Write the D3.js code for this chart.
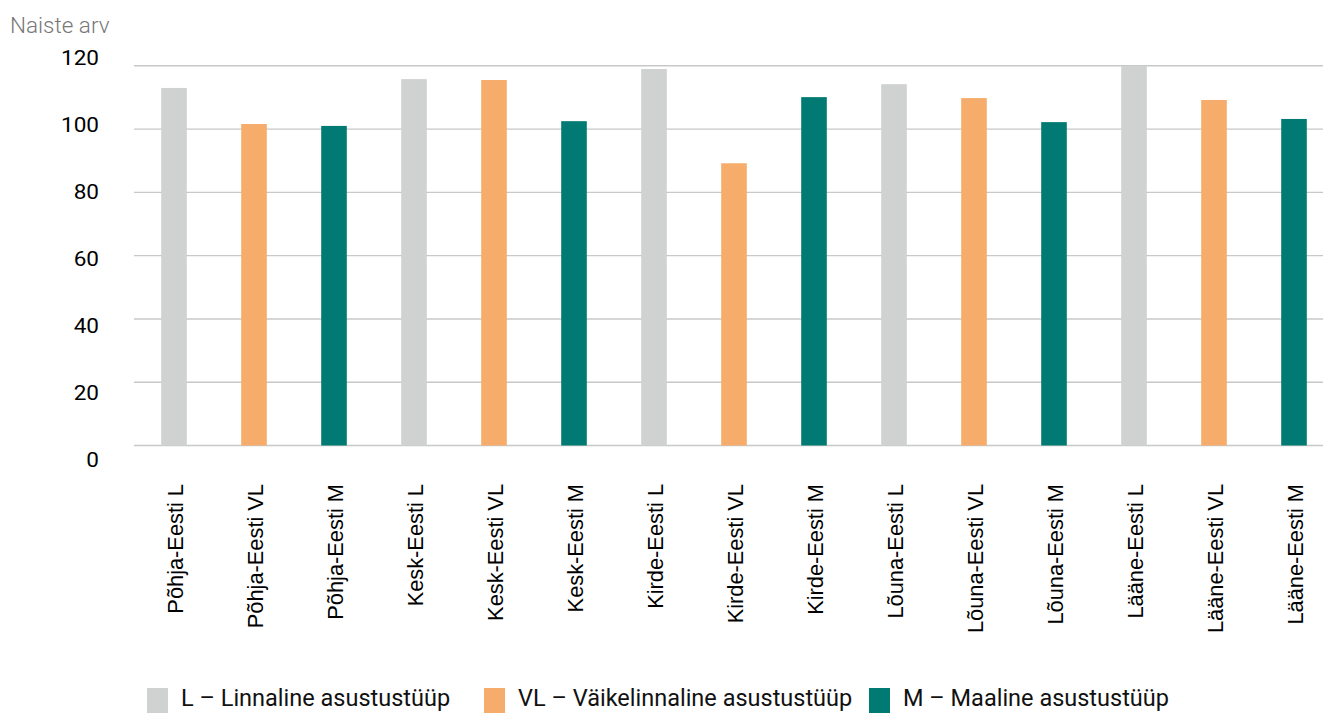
<!DOCTYPE html>
<html>
<head>
<meta charset="utf-8">
<script src="https://cdn.jsdelivr.net/npm/d3@7/dist/d3.min.js"></script>
<style>
  html, body { margin: 0; padding: 0; background: #fff; overflow: hidden; }
  svg { display: block; }
</style>
</head>
<body>
<svg id="chart" width="1323" height="713"></svg>
<script>
// ---- Data ----
const categories = [
  "Põhja-Eesti L", "Põhja-Eesti VL", "Põhja-Eesti M",
  "Kesk-Eesti L", "Kesk-Eesti VL", "Kesk-Eesti M",
  "Kirde-Eesti L", "Kirde-Eesti VL", "Kirde-Eesti M",
  "Lõuna-Eesti L", "Lõuna-Eesti VL", "Lõuna-Eesti M",
  "Lääne-Eesti L", "Lääne-Eesti VL", "Lääne-Eesti M"
];
const values = [113, 101.6, 101, 115.8, 115.5, 102.5, 119, 89.2, 110.1, 114.2, 109.8, 102.2, 119.9, 109.2, 103.2];
const types = ["L","VL","M","L","VL","M","L","VL","M","L","VL","M","L","VL","M"];
const yTicks = [0, 20, 40, 60, 80, 100, 120];
const legendKeys = ["L", "VL", "M"];
const legendLabels = ["L – Linnaline asustustüüp", "VL – Väikelinnaline asustustüüp", "M – Maaline asustustüüp"];
const yTitle = "Naiste arv";

// ---- Style / layout ----
const colors = { L: "#D0D2D1", VL: "#F6AC6A", M: "#007A72" };
const legendX = [147, 484, 869];

const svg = d3.select("#chart");

const x = d3.scaleBand()
  .domain(categories)
  .range([134, 1334])
  .paddingInner(0.68)
  .paddingOuter(0.34);

const y = d3.scaleLinear().domain([0, 120]).range([445.5, 65.8]);
// tick labels in the original are spread slightly wider than the grid
const yLabel = d3.scaleLinear().domain([0, 120]).range([466.7, 65.2]);

// gridlines
svg.append("g")
  .selectAll("line")
  .data(yTicks)
  .join("line")
  .attr("x1", 134)
  .attr("x2", 1323)
  .attr("y1", d => y(d))
  .attr("y2", d => y(d))
  .attr("stroke", "#c8c8c8")
  .attr("stroke-width", 1.4);

// y tick labels
svg.append("g")
  .selectAll("text")
  .data(yTicks)
  .join("text")
  .attr("transform", d => `translate(99,${yLabel(d)}) scale(1.1,1)`)
  .attr("text-anchor", "end")
  .attr("font-family", "Roboto, sans-serif")
  .attr("font-size", 20.5)
  .attr("fill", "#000")
  .text(d => d);

// y title
svg.append("text")
  .attr("x", 10)
  .attr("y", 33)
  .attr("font-family", "Roboto, sans-serif")
  .attr("font-weight", 300)
  .attr("font-size", 22.5)
  .attr("fill", "#777")
  .text(yTitle);

// bars
svg.append("g")
  .selectAll("rect")
  .data(categories.map((c, i) => ({ c, v: values[i], t: types[i] })))
  .join("rect")
  .attr("x", d => x(d.c))
  .attr("width", x.bandwidth())
  .attr("y", d => y(d.v))
  .attr("height", d => y(0) - y(d.v))
  .attr("fill", d => colors[d.t]);

// x category labels (rotated)
svg.append("g")
  .selectAll("text")
  .data(categories)
  .join("text")
  .attr("transform", d => `translate(${x(d) + x.bandwidth() / 2 + 0.8},484) rotate(-90)`)
  .attr("text-anchor", "end")
  .attr("dy", "0.36em")
  .attr("font-family", "'Liberation Sans', Arial, sans-serif")
  .attr("font-size", 21.8)
  .attr("fill", "#000")
  .text(d => d);

// legend
const legend = svg.append("g");
legendKeys.forEach((k, i) => {
  legend.append("rect")
    .attr("x", legendX[i])
    .attr("y", 688)
    .attr("width", 21)
    .attr("height", 25)
    .attr("fill", colors[k]);
  legend.append("text")
    .attr("x", legendX[i] + 34)
    .attr("y", 706)
    .attr("font-family", "Roboto, sans-serif")
    .attr("font-size", 23.5)
    .attr("fill", "#111")
    .text(legendLabels[i]);
});
</script>
</body>
</html>
